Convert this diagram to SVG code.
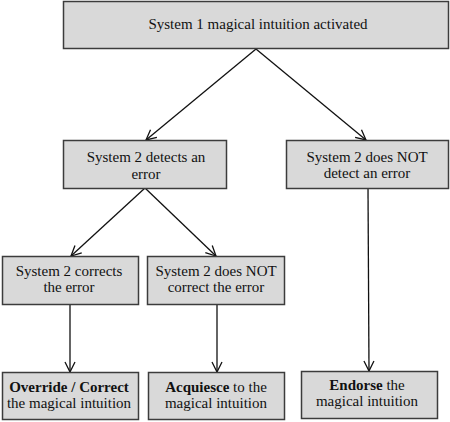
<svg xmlns="http://www.w3.org/2000/svg" width="450" height="422" viewBox="0 0 450 422" font-family="'Liberation Serif', 'Times New Roman', Times, serif">
<style>
.box{fill:#d9d9d9;stroke:#3c3c3c;stroke-width:1.5}
text{font-family:'Liberation Serif','Times New Roman',Times,serif;font-size:15px;fill:#111;text-anchor:middle}
.b{font-weight:bold}
.c{fill:none;stroke:#111;stroke-width:1.3}
</style>
<defs>
<marker id="ah" viewBox="0 0 12 12" refX="11" refY="6" markerWidth="12" markerHeight="12" markerUnits="userSpaceOnUse" orient="auto">
<path d="M1,1 L11,6 L1,11" fill="none" stroke="#111" stroke-width="1.3"/>
</marker>
</defs>
<rect width="450" height="422" fill="#fff"/>
<g id="connectors">
<line class="c" x1="256" y1="49" x2="146" y2="140" marker-end="url(#ah)"/>
<line class="c" x1="256" y1="49" x2="366" y2="140" marker-end="url(#ah)"/>
<line class="c" x1="145" y1="188" x2="71" y2="256" marker-end="url(#ah)"/>
<line class="c" x1="145" y1="188" x2="216" y2="256" marker-end="url(#ah)"/>
<line class="c" x1="70" y1="304" x2="70" y2="372" marker-end="url(#ah)"/>
<line class="c" x1="217" y1="304" x2="217" y2="372" marker-end="url(#ah)"/>
<line class="c" x1="368" y1="188" x2="369" y2="371" marker-end="url(#ah)"/>
</g>
<g id="n1"><rect class="box" x="63.5" y="1.5" width="385" height="47"/><text x="258" y="29">System 1 magical intuition activated</text></g>
<g id="n2"><rect class="box" x="63.5" y="140.5" width="163" height="48"/><text x="146" y="162">System 2 detects an</text><text x="146" y="179">error</text></g>
<g id="n3"><rect class="box" x="286.5" y="140.5" width="162" height="48"/><text x="367" y="162">System 2 does NOT</text><text x="367" y="178">detect an error</text></g>
<g id="n4"><rect class="box" x="2.5" y="256.5" width="136" height="48"/><text x="69" y="276">System 2 corrects</text><text x="69" y="292">the error</text></g>
<g id="n5"><rect class="box" x="147.5" y="256.5" width="137" height="48"/><text x="216" y="276">System 2 does NOT</text><text x="216" y="292">correct the error</text></g>
<g id="n6"><rect class="box" x="2.5" y="372.5" width="136" height="47"/><text x="69" y="392"><tspan class="b">Override / Correct</tspan></text><text x="69" y="408">the magical intuition</text></g>
<g id="n7"><rect class="box" x="148.5" y="372.5" width="136" height="47"/><text x="216" y="392"><tspan class="b">Acquiesce</tspan> to the</text><text x="216" y="408">magical intuition</text></g>
<g id="n8"><rect class="box" x="301.5" y="371.5" width="136" height="47"/><text x="367" y="390"><tspan class="b">Endorse</tspan> the</text><text x="367" y="406">magical intuition</text></g>
</svg>
